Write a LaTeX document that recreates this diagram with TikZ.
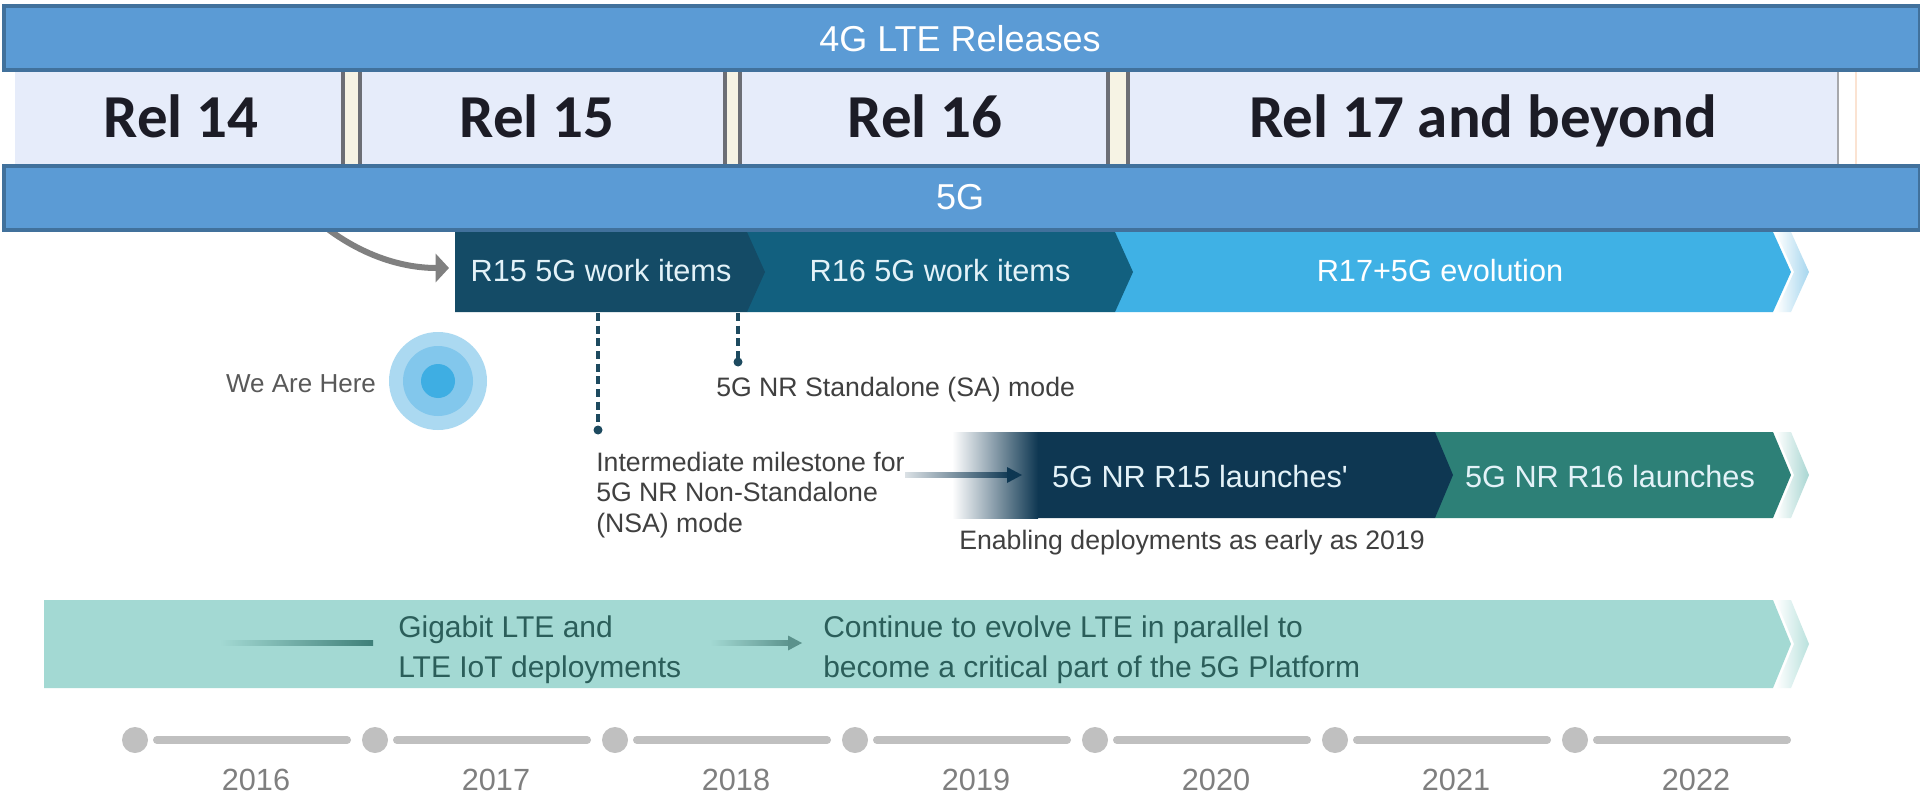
\documentclass[tikz,border=0pt]{standalone}
\usepackage{fontspec}
\setmainfont{Liberation Sans}
\newfontfamily\relfont{Carlito}
\usetikzlibrary{arrows.meta,calc}
\definecolor{barblue}{HTML}{5B9BD5}
\definecolor{barborder}{HTML}{41719C}
\definecolor{relfill}{HTML}{E6ECFA}
\definecolor{relsep}{HTML}{6C6E75}
\definecolor{relgap}{HTML}{F6F3E4}
\definecolor{relpeach}{HTML}{FBE3D2}
\definecolor{relink}{HTML}{1C1C26}
\definecolor{rfifteen}{HTML}{144B66}
\definecolor{rsixteen}{HTML}{12607F}
\definecolor{rseventeen}{HTML}{3FB1E5}
\definecolor{navy}{HTML}{0E3752}
\definecolor{tealdark}{HTML}{2D8077}
\definecolor{ltefill}{HTML}{A3D9D3}
\definecolor{ltetext}{HTML}{2B5E5A}
\definecolor{ltearrow}{HTML}{3E7F78}
\definecolor{labelgray}{HTML}{404040}
\definecolor{heregray}{HTML}{595959}
\definecolor{dashcol}{HTML}{1D4A5F}
\definecolor{tlgray}{HTML}{C0C0C0}
\definecolor{yeargray}{HTML}{7F7F7F}
\definecolor{chevtext}{HTML}{E3F2F8}
\definecolor{ghostone}{HTML}{A6D6EE}
\definecolor{ghosttwo}{HTML}{A9D6D2}
\definecolor{ghostthree}{HTML}{B9E1DD}
\definecolor{circout}{HTML}{ABD9F1}
\definecolor{circmid}{HTML}{82C7EC}
\definecolor{circin}{HTML}{3EAEE3}
\definecolor{curvegray}{HTML}{808080}
\begin{document}
\begin{tikzpicture}[x=0.75pt,y=-0.75pt,
  every node/.style={inner sep=0pt, text depth=0pt},
  bartxt/.style={font=\fontsize{27}{32}\selectfont, text=white, text height=19.3pt},
  barbox/.style={fill=barblue, draw=barborder, line width=3pt, minimum width=1437pt, minimum height=48pt, anchor=north west},
  reltxt/.style={font=\relfont\bfseries\fontsize{45.75}{55}\selectfont, text=relink, text height=29.5pt},
  chevtxt/.style={font=\fontsize{23}{27}\selectfont, text=chevtext, text height=16.5pt},
  notetxt/.style={font=\fontsize{20}{24}\selectfont, text=labelgray, text height=14.3pt, anchor=west},
  ltetxt/.style={font=\fontsize{22.5}{27}\selectfont, text=ltetext, text height=16.1pt, anchor=west},
  yeartxt/.style={font=\fontsize{23}{27}\selectfont, text=yeargray, text height=16.5pt},
  dashline/.style={draw=dashcol, line width=2.4pt, dash pattern=on 6pt off 3.5pt},
  grayarrow/.style={draw=curvegray, line width=4.5pt, -{Triangle[length=10pt,width=21pt]}},
  tlline/.style={draw=tlgray, line width=6pt, line cap=round},
]
\useasboundingbox (0,0) rectangle (1920,795);
\fill[white] (0,0) rectangle (1920,795);

% ---- Release strip ----
\fill[relfill] (15,68) rectangle (1838,164);
\foreach \a/\b in {343/360, 725/740, 1108/1128}{
  \fill[relgap] (\a,68) rectangle (\b,164);
  \draw[relsep, line width=3pt] (\a,68) -- (\a,164) (\b,68) -- (\b,164);
}
\draw[relsep!60, line width=2pt] (1838,68) -- (1838,164);
\draw[relpeach, line width=2pt] (1856,68) -- (1856,164);
\node[reltxt] (rel14) at (181,118) {Rel 14};
\node[reltxt] (rel15) at (537,118) {Rel 15};
\node[reltxt] (rel16) at (925,118) {Rel 16};
\node[reltxt] (rel17) at (1483,118) {Rel 17 and beyond};

% ---- curved arrow (partly hidden by the 5G bar) ----
\coordinate (cstart) at (300,205);
\coordinate (cend) at (449,268);
\draw[grayarrow] (cstart) .. controls (345,250) and (395,268) .. (cend);

% ---- blue bars ----
\node[barbox] (ltebar) at (2,4) {};
\node[bartxt] (ltebartxt) at (960,39) {4G LTE Releases};
\node[barbox] (fgbar) at (2,164) {};
\node[bartxt] (fgbartxt) at (960,197) {5G};

% ---- row 1 chevrons ----
\shade[left color=white, right color=ghostone] (1776,232) -- (1791,232) -- (1809,272) -- (1791,312) -- (1776,312) -- (1794,272) -- cycle;
\fill[rseventeen] (1115,232) -- (1773,232) -- (1791,272) -- (1773,312) -- (1115,312) -- cycle;
\fill[rsixteen] (747,232) -- (1115,232) -- (1133,272) -- (1115,312) -- (747,312) -- cycle;
\fill[rfifteen] (455,232) -- (747,232) -- (765,272) -- (747,312) -- (455,312) -- cycle;
\node[chevtxt] (r15w) at (601,270) {R15 5G work items};
\node[chevtxt] (r16w) at (940,270) {R16 5G work items};
\node[chevtxt, text=white] (r17w) at (1440,270) {R17+5G evolution};

% ---- milestones ----
\coordinate (nsatop) at (598,313);
\coordinate (nsadot) at (598,430);
\coordinate (satop) at (738,313);
\coordinate (sadot) at (738,362);
\draw[dashline] (nsatop) -- (nsadot);
\draw[dashline] (satop) -- (sadot);
\fill[dashcol] (nsadot) circle (4.5);
\fill[dashcol] (sadot) circle (4.5);
\node[notetxt] (satxt) at (716,387) {5G NR Standalone (SA) mode};
\node[notetxt] (nsa1) at (596,462) {Intermediate milestone for};
\node[notetxt] (nsa2) at (596,492) {5G NR Non-Standalone};
\node[notetxt] (nsa3) at (596,523) {(NSA) mode};

% ---- we are here ----
\fill[circout] (438,381) circle (49);
\fill[circmid] (438,381) circle (35);
\fill[circin] (438,381) circle (17);
\node[notetxt, anchor=center, text=heregray, font=\fontsize{19.5}{23}\selectfont] (here) at (301,383) {We Are Here};

% ---- row 2 chevrons ----
\shade[left color=white, right color=ghosttwo] (1776,432) -- (1791,432) -- (1809,475) -- (1791,518) -- (1776,518) -- (1794,475) -- cycle;
\fill[tealdark] (1435,432) -- (1773,432) -- (1791,475) -- (1773,518) -- (1435,518) -- cycle;
\fill[navy] (1036,432) -- (1435,432) -- (1453,475) -- (1435,518) -- (1036,518) -- cycle;
\shade[left color=white, right color=navy] (952,432) rectangle (1038,518);
\coordinate (larrS) at (905,475);
\coordinate (larrE) at (1022,475);
\shade[left color=white!85!navy, right color=navy] ($(larrS)+(0,-2.6)$) rectangle ($(larrE)+(-12,2.6)$);
\fill[navy] ($(larrE)+(-15,-8)$) -- (larrE) -- ($(larrE)+(-15,8)$) -- cycle;
\node[chevtxt] (r15l) at (1200,476) {5G NR R15 launches\textquotesingle};
\node[chevtxt] (r16l) at (1610,476) {5G NR R16 launches};
\node[notetxt] (enab) at (959,540) {Enabling deployments as early as 2019};

% ---- row 3 LTE band ----
\shade[left color=white, right color=ghostthree] (1776,600) -- (1791,600) -- (1809,644) -- (1791,688) -- (1776,688) -- (1794,644) -- cycle;
\fill[ltefill] (44,600) -- (1773,600) -- (1791,644) -- (1773,688) -- (44,688) -- cycle;
\coordinate (gigS) at (220,643);
\coordinate (gigE) at (373,643);
\shade[left color=ltefill, right color=ltearrow] ($(gigS)+(0,-2.5)$) rectangle ($(gigE)+(0,2.5)$);
\coordinate (contS) at (710,643);
\coordinate (contE) at (802,643);
\shade[left color=ltefill, right color=ltearrow!85] ($(contS)+(0,-2.2)$) rectangle ($(contE)+(-11,2.2)$);
\fill[ltearrow!85] ($(contE)+(-14,-7.5)$) -- (contE) -- ($(contE)+(-14,7.5)$) -- cycle;
\node[ltetxt] (gig1) at (398,627) {Gigabit LTE and};
\node[ltetxt] (gig2) at (398,667) {LTE IoT deployments};
\node[ltetxt] (cont1) at (823,627) {Continue to evolve LTE in parallel to};
\node[ltetxt] (cont2) at (823,667) {become a critical part of the 5G Platform};

% ---- timeline ----
\foreach \i [count=\k from 0] in {2016,2017,2018,2019,2020,2021,2022}{
  \pgfmathsetmacro{\dx}{135+240*\k}
  \pgfmathsetmacro{\yx}{256+240*\k}
  \fill[tlgray] (\dx,740) circle (13) coordinate (dot\k);
  \draw[tlline] (\dx+22,740) -- (\dx+212,740);
  \node[yeartxt] (year\k) at (\yx,779) {\i};
}
\end{tikzpicture}
\end{document}
